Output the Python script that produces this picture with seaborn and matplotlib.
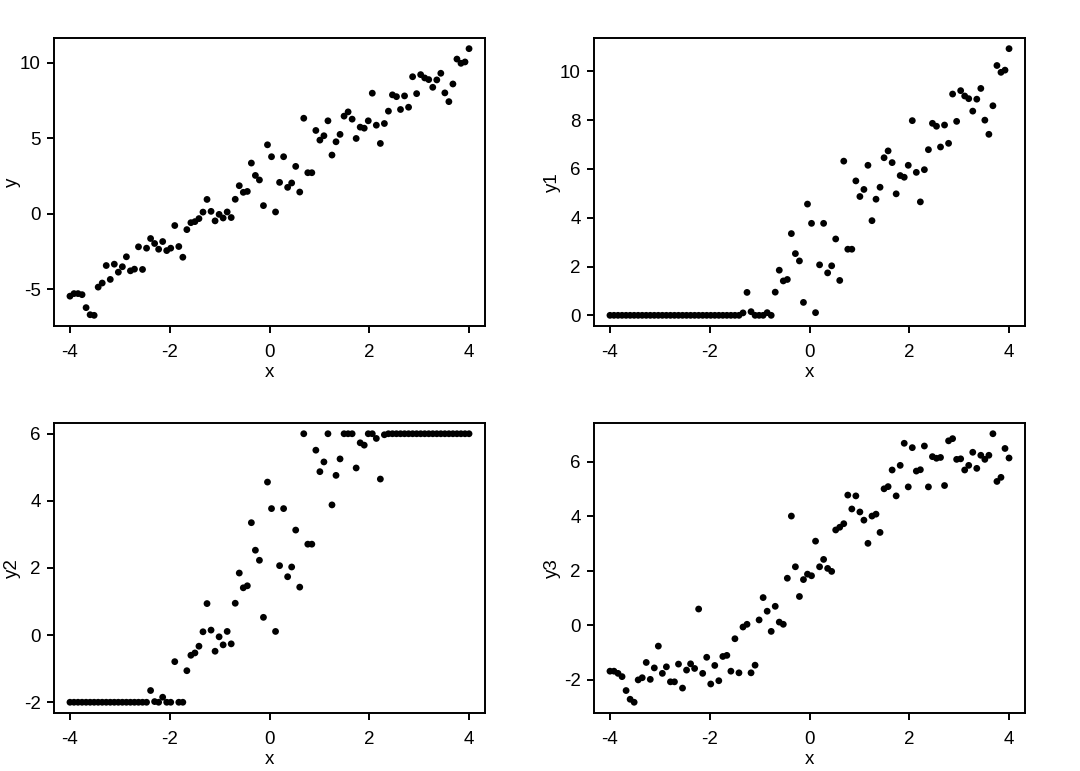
import numpy as np
import pandas as pd
import matplotlib
matplotlib.use("Agg")
import matplotlib.pyplot as plt
import seaborn as sns

# ---------------- data ----------------
x = np.linspace(-4, 4, 100)

y = [-5.47, -5.30, -5.30, -5.37, -6.23, -6.70, -6.74, -4.87, -4.60, -3.44,
     -4.36, -3.35, -3.88, -3.52, -2.86, -3.79, -3.68, -2.20, -3.70, -2.29,
     -1.65, -1.98, -2.36, -1.85, -2.45, -2.29, -0.79, -2.18, -2.89, -1.06,
     -0.60, -0.53, -0.33, 0.10, 0.94, 0.15, -0.48, -0.05, -0.29, 0.11,
     -0.26, 0.95, 1.85, 1.41, 1.47, 3.35, 2.53, 2.23, 0.53, 4.56,
     3.77, 0.11, 2.07, 3.77, 1.74, 2.03, 3.13, 1.43, 6.32, 2.71,
     2.71, 5.51, 4.87, 5.16, 6.15, 3.88, 4.76, 5.25, 6.46, 6.74,
     6.26, 4.98, 5.73, 5.66, 6.15, 7.98, 5.86, 4.65, 5.97, 6.79,
     7.87, 7.75, 6.90, 7.80, 7.05, 9.07, 7.95, 9.21, 8.99, 8.88,
     8.37, 8.86, 9.30, 8.00, 7.42, 8.59, 10.24, 9.96, 10.05, 10.93]

y1 = [0, 0, 0, 0, 0, 0, 0, 0, 0, 0,
      0, 0, 0, 0, 0, 0, 0, 0, 0, 0,
      0, 0, 0, 0, 0, 0, 0, 0, 0, 0,
      0, 0, 0, 0.10, 0.94, 0.15, 0, 0, 0, 0.11,
      0, 0.95, 1.85, 1.41, 1.47, 3.35, 2.53, 2.23, 0.53, 4.56,
      3.77, 0.11, 2.07, 3.77, 1.74, 2.03, 3.13, 1.43, 6.32, 2.71,
      2.71, 5.51, 4.87, 5.16, 6.15, 3.88, 4.76, 5.25, 6.46, 6.74,
      6.26, 4.98, 5.73, 5.66, 6.15, 7.98, 5.86, 4.65, 5.97, 6.79,
      7.87, 7.75, 6.90, 7.80, 7.05, 9.07, 7.95, 9.21, 8.99, 8.88,
      8.37, 8.86, 9.30, 8.00, 7.42, 8.59, 10.24, 9.96, 10.05, 10.93]

y2 = [-2, -2, -2, -2, -2, -2, -2, -2, -2, -2,
      -2, -2, -2, -2, -2, -2, -2, -2, -2, -2,
      -1.65, -1.98, -2, -1.85, -2, -2, -0.79, -2, -2, -1.06,
      -0.60, -0.53, -0.33, 0.10, 0.94, 0.15, -0.48, -0.05, -0.29, 0.11,
      -0.26, 0.95, 1.85, 1.41, 1.47, 3.35, 2.53, 2.23, 0.53, 4.56,
      3.77, 0.11, 2.07, 3.77, 1.74, 2.03, 3.13, 1.43, 6, 2.71,
      2.71, 5.51, 4.87, 5.16, 6, 3.88, 4.76, 5.25, 6, 6,
      6, 4.98, 5.73, 5.66, 6, 6, 5.86, 4.65, 5.97, 6,
      6, 6, 6, 6, 6, 6, 6, 6, 6, 6,
      6, 6, 6, 6, 6, 6, 6, 6, 6, 6]

y3 = [-1.68, -1.68, -1.76, -1.88, -2.39, -2.71, -2.82, -2.00, -1.92, -1.36,
      -1.98, -1.56, -0.76, -1.76, -1.52, -2.07, -2.07, -1.42, -2.30, -1.64,
      -1.41, -1.58, 0.60, -1.76, -1.17, -2.15, -1.47, -2.03, -1.14, -1.10,
      -1.68, -0.49, -1.74, -0.06, 0.04, -1.74, -1.46, 0.20, 1.02, 0.52,
      -0.22, 0.70, 0.12, 0.04, 1.73, 4.01, 2.15, 1.06, 1.68, 1.88,
      1.82, 3.09, 2.15, 2.42, 2.09, 1.98, 3.50, 3.60, 3.73, 4.78,
      4.27, 4.75, 4.16, 3.86, 3.01, 4.01, 4.08, 3.41, 5.01, 5.09,
      5.70, 4.75, 5.87, 6.68, 5.08, 6.52, 5.66, 5.71, 6.58, 5.08,
      6.19, 6.13, 6.16, 5.13, 6.77, 6.85, 6.09, 6.11, 5.70, 5.87,
      6.35, 5.76, 6.24, 6.09, 6.24, 7.03, 5.28, 5.43, 6.49, 6.14]

x_ticks = [-4, -2, 0, 2, 4]
y_ticks = [-5, 0, 5, 10]
y1_ticks = [0, 2, 4, 6, 8, 10]
y2_ticks = [-2, 0, 2, 4, 6]
y3_ticks = [-2, 0, 2, 4, 6]

df = pd.DataFrame({"x": x, "y": y, "y1": y1, "y2": y2, "y3": y3})

# ---------------- style ----------------
sns.set_theme(style="ticks")
plt.rcParams['font.family'] = ['Liberation Sans', 'DejaVu Sans']
plt.rcParams['axes.edgecolor'] = 'black'
plt.rcParams['axes.linewidth'] = 1.4

W, H = 1080, 771
fig = plt.figure(figsize=(W / 100, H / 100), dpi=100)

panels = [
    ("y", y_ticks, (54, 38, 485, 326)),
    ("y1", y1_ticks, (594, 38, 1025, 326)),
    ("y2", y2_ticks, (54, 423, 485, 713)),
    ("y3", y3_ticks, (594, 423, 1025, 713)),
]

FS = 13.5
for col, ticks, (l, t, r, b) in panels:
    ax = fig.add_axes([l / W, 1 - b / H, (r - l) / W, (b - t) / H])
    sns.scatterplot(data=df, x="x", y=col, ax=ax, color="black", s=24,
                    linewidth=0, edgecolor="none", legend=False)
    lo, hi = df[col].min(), df[col].max()
    pad = 0.04 * (hi - lo)
    ax.set_ylim(lo - pad, hi + pad)
    ax.set_xlim(-4.32, 4.32)
    ax.set_xticks(x_ticks)
    ax.set_yticks(ticks)
    ax.set_xticklabels([str(v) for v in x_ticks])
    ax.set_yticklabels([str(v) for v in ticks])
    ax.tick_params(axis="both", direction="out", length=5, width=1.4,
                   colors="black", labelsize=FS)
    ax.tick_params(axis="x", pad=8)
    ax.tick_params(axis="y", pad=4.5)
    for s in ax.spines.values():
        s.set_visible(True)
        s.set_color("black")
        s.set_linewidth(1.4)
    ax.set_facecolor("white")
    ax.grid(False)
    ax.set_xlabel("x", fontsize=FS, color="black")
    ax.set_ylabel(col, fontsize=FS, color="black")
    ax.xaxis.set_label_coords(0.5, -38 / (b - t))
    ax.yaxis.set_label_coords(-33 / (r - l), 0.5)

fig.savefig("out.png", dpi=100, facecolor="white")
